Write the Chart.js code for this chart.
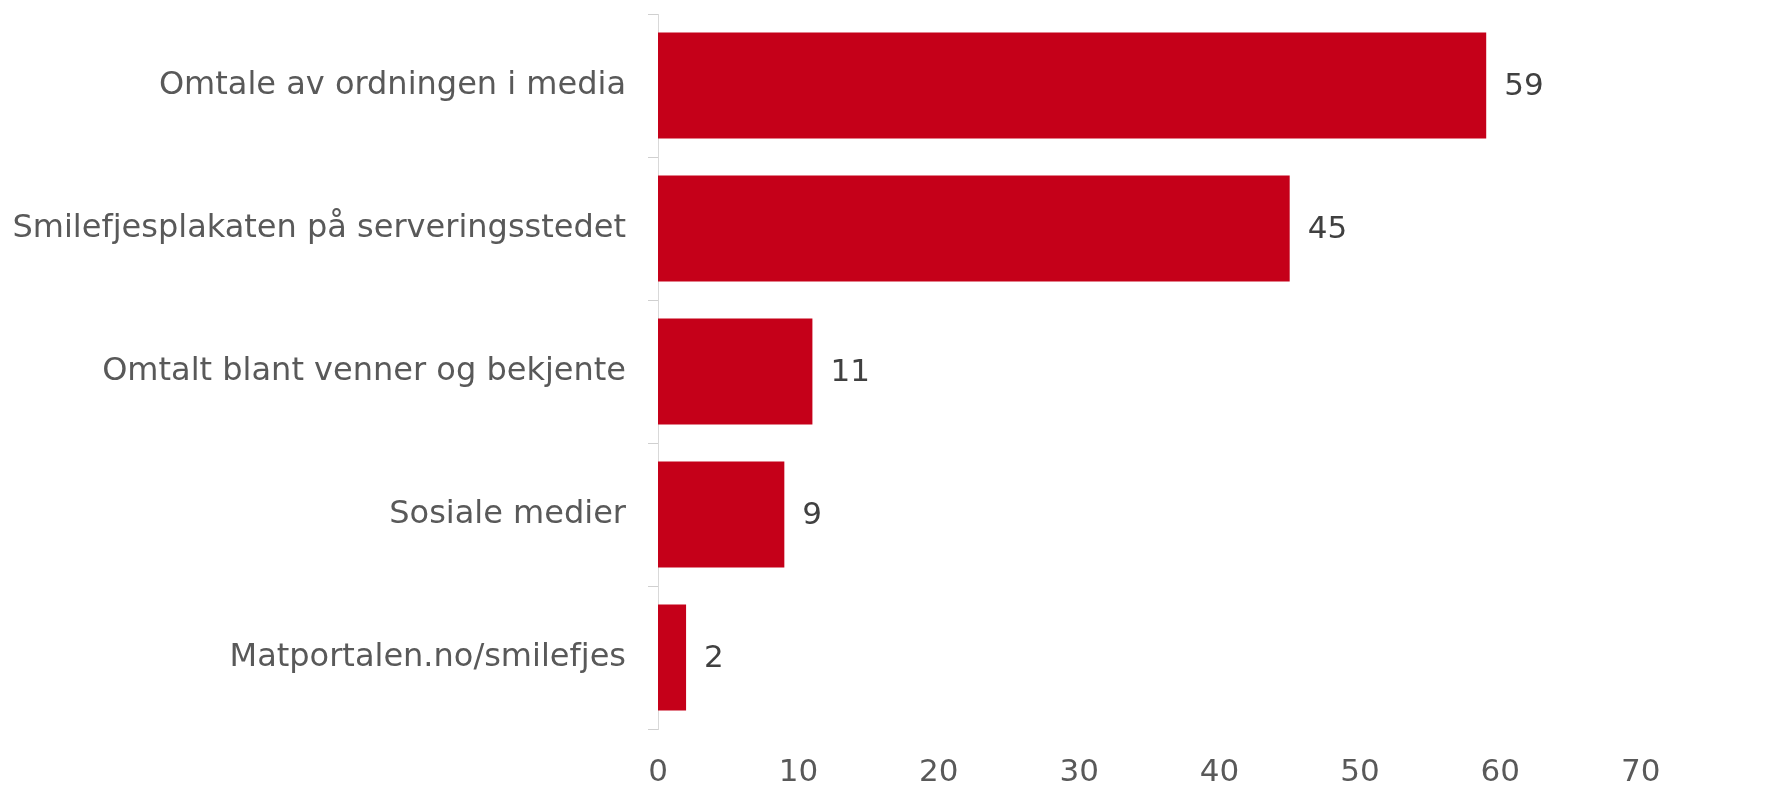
<!DOCTYPE html>
<html>
<head>
<meta charset="utf-8">
<script src="https://cdn.jsdelivr.net/npm/chart.js@4/dist/chart.umd.min.js"></script>
<style>
    html, body { margin: 0; padding: 0; background: #ffffff; }
    #wrap { width: 1785px; height: 787px; }
</style>
</head>
<body>
<div id="wrap"><canvas id="chart" width="1785" height="787"></canvas></div>
<script>
const categories = [
    'Omtale av ordningen i media',
    'Smilefjesplakaten på serveringsstedet',
    'Omtalt blant venner og bekjente',
    'Sosiale medier',
    'Matportalen.no/smilefjes',
];
const values = [59, 45, 11, 9, 2];
const xTicks = [0, 10, 20, 30, 40, 50, 60, 70];

const barColor = '#c50019';
const fontFamily = '"DejaVu Sans", Verdana, sans-serif';

const valueLabels = {
    id: 'valueLabels',
    afterDatasetsDraw(chart) {
        const { ctx } = chart;
        const meta = chart.getDatasetMeta(0);

        ctx.save();
        ctx.font = `31px ${fontFamily}`;
        ctx.fillStyle = '#404040';
        ctx.textAlign = 'left';
        ctx.textBaseline = 'middle';
        meta.data.forEach((bar, i) => {
            ctx.fillText(String(values[i]), bar.x + 18, bar.y + 1);
        });
        ctx.restore();
    },
};

new Chart(document.getElementById('chart'), {
    type: 'bar',
    data: {
        labels: categories,
        datasets: [
            {
                data: values,
                backgroundColor: barColor,
                borderWidth: 0,
                categoryPercentage: 1,
                barPercentage: 0.74,
            },
        ],
    },
    options: {
        indexAxis: 'y',
        responsive: false,
        devicePixelRatio: 1,
        animation: false,
        layout: {
            padding: { top: 14, right: 4, bottom: 0, left: 0 },
        },
        plugins: {
            legend: { display: false },
            tooltip: { enabled: false },
        },
        scales: {
            x: {
                min: 0,
                max: 80,
                afterFit(scale) {
                    scale.height = 58;
                    scale.paddingLeft = 0;
                    scale.paddingRight = 0;
                },
                afterBuildTicks(scale) {
                    scale.ticks = xTicks.concat([80]).map((v) => ({ value: v }));
                },
                ticks: {
                    color: '#595959',
                    padding: 25,
                    maxRotation: 0,
                    autoSkip: false,
                    font: { family: fontFamily, size: 31 },
                    callback: (v) => (xTicks.includes(v) ? String(v) : ''),
                },
                grid: {
                    display: false,
                    drawTicks: false,
                },
                border: { display: false },
            },
            y: {
                afterFit(scale) {
                    scale.width = 658;
                    scale.paddingTop = 0;
                    scale.paddingBottom = 0;
                },
                ticks: {
                    color: '#595959',
                    padding: 22,
                    font: { family: fontFamily, size: 32 },
                },
                grid: {
                    offset: true,
                    drawOnChartArea: false,
                    drawTicks: true,
                    tickLength: 10,
                    color: '#d0d0d0',
                    lineWidth: 1,
                },
                border: {
                    display: true,
                    color: '#d9d9d9',
                    width: 1,
                },
            },
        },
    },
    plugins: [valueLabels],
});
</script>
</body>
</html>
